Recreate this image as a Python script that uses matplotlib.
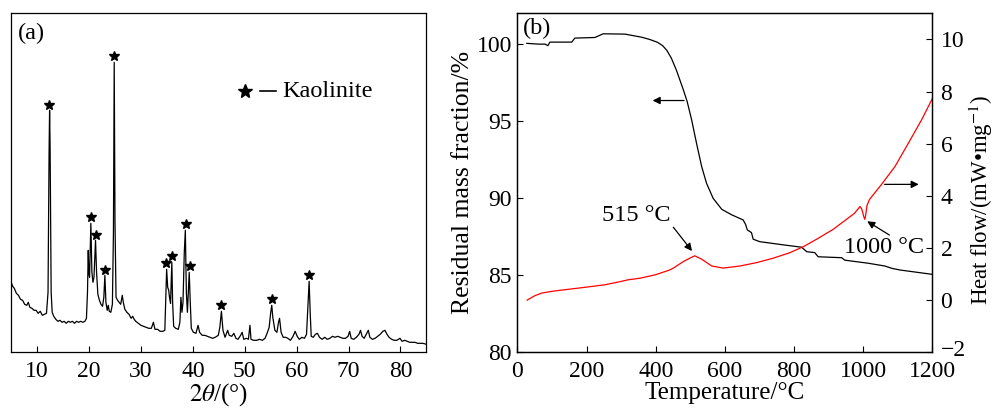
import matplotlib
matplotlib.use('Agg')
import matplotlib.pyplot as plt
import matplotlib.transforms as mtransforms

# ================= DATA =================
# (a) XRD pattern, intensity in arbitrary units
two_theta = [5.0, 5.3, 5.6, 6.0, 6.4, 6.8, 7.2, 7.6, 8.0, 8.3, 8.6, 9.0, 9.4, 9.8, 10.2, 10.6,
             11.0, 11.4, 11.8, 12.1, 12.3, 12.4, 12.5, 12.7, 12.9, 13.2, 13.6, 14.0, 14.4, 14.8,
             15.2, 15.6, 16.0, 16.4, 16.8, 17.2, 17.6, 18.0, 18.4, 18.8, 19.2, 19.5, 19.7, 19.85,
             19.95, 20.1, 20.35, 20.55, 20.75, 20.95, 21.25, 21.45, 21.7, 22.0, 22.3, 22.6, 22.85,
             23.05, 23.25, 23.5, 23.7, 23.9, 24.2, 24.5, 24.7, 24.85, 25.0, 25.2, 25.5, 25.8, 26.1,
             26.4, 26.6, 26.9, 27.3, 27.7, 28.1, 28.4, 28.7, 29.0, 29.5, 30.0, 30.5, 31.0, 31.5,
             32.0, 32.4, 32.7, 33.2, 33.7, 34.2, 34.6, 34.8, 34.95, 35.15, 35.35, 35.5, 35.7, 35.95,
             36.1, 36.3, 36.7, 37.2, 37.5, 37.7, 37.9, 38.1, 38.35, 38.55, 38.75, 38.95, 39.3, 39.5,
             39.7, 40.1, 40.6, 41.0, 41.3, 41.8, 42.3, 42.8, 43.3, 43.8, 44.3, 44.9, 45.2, 45.5,
             45.8, 46.2, 46.7, 47.0, 47.5, 47.9, 48.3, 48.7, 49.2, 49.5, 49.8, 50.3, 50.7, 51.0,
             51.2, 51.7, 52.3, 52.8, 53.4, 53.9, 54.3, 54.7, 55.0, 55.2, 55.4, 55.8, 56.2, 56.5,
             56.7, 57.0, 57.4, 57.9, 58.3, 58.8, 59.3, 59.7, 60.1, 60.5, 61.0, 61.5, 61.9, 62.15,
             62.4, 62.6, 62.8, 63.2, 63.6, 64.0, 64.4, 64.9, 65.4, 65.9, 66.4, 66.9, 67.4, 67.9,
             68.4, 68.9, 69.4, 69.9, 70.2, 70.5, 71.0, 71.5, 72.0, 72.3, 72.6, 73.0, 73.4, 73.8,
             74.1, 74.6, 75.1, 75.6, 76.1, 76.6, 77.0, 77.4, 77.8, 78.3, 78.8, 79.3, 79.9, 80.3,
             80.8, 81.3, 81.8, 82.3, 82.8, 83.3, 83.8, 84.3, 85.0]
intensity = [70, 66, 64, 59, 57, 53, 52, 48, 47, 50, 45, 44, 42, 42, 39, 41,
             37, 38, 39, 60, 200, 242, 205, 60, 40, 36, 33, 31, 32, 30,
             31, 29, 31, 30, 31, 29, 31, 30, 31, 30, 31, 34, 60, 102,
             80, 75, 129, 80, 70, 75, 112, 80, 58, 52, 48, 46, 55,
             77, 50, 42, 47, 41, 40, 48, 120, 290, 130, 55, 52, 50, 48,
             57, 50, 43, 40, 38, 34, 36, 33, 31, 29, 27, 26, 25, 24,
             24, 30, 23, 23, 21, 21, 22, 55, 83, 65, 62, 55, 49, 90,
             50, 26, 24, 23, 30, 55, 40, 50, 100, 122, 60, 40, 80, 50,
             24, 20, 19, 27, 20, 17, 17, 16, 15, 14, 15, 17, 25, 41,
             22, 15, 22, 17, 16, 19, 14, 13, 17, 20, 13, 14, 13, 27,
             13, 12, 12, 13, 12, 14, 19, 25, 40, 47, 35, 22, 20, 30,
             34, 20, 15, 15, 14, 12, 16, 21, 16, 13, 15, 14, 18, 45,
             71, 40, 16, 15, 18, 19, 15, 13, 15, 13, 14, 16, 15, 16,
             15, 14, 14, 16, 21, 14, 13, 15, 18, 22, 16, 14, 18, 22,
             15, 13, 14, 16, 18, 21, 22, 18, 15, 13, 12, 12, 14, 11,
             12, 11, 10, 10, 10, 9, 9, 9, 8]
star_theta = [12.38, 20.41, 21.31, 23.11, 24.85, 34.88, 35.97, 38.6, 39.38, 45.48, 55.25, 62.45]
star_int = [247, 135, 117, 82, 296, 89, 96, 128, 86, 47, 53, 77]

# (b) TG curve
tg_temp = [27, 60, 80, 88, 94, 157, 166, 224, 248, 311, 359, 383, 405, 420, 432, 445, 460,
           480, 491, 504, 518, 533, 547, 566, 591, 620, 653, 660, 665, 677, 682, 701, 770, 822,
           837, 860, 870, 938, 947, 1015, 1063, 1083, 1107, 1200]
tg_mass = [100.05, 100.0, 100.0, 99.9, 100.13, 100.13, 100.39, 100.43, 100.67, 100.65, 100.45,
           100.3, 100.12, 99.9, 99.6, 99.1, 98.3, 97.03, 96.27, 95.08, 93.57, 92.05, 90.97,
           90.0, 89.28, 88.92, 88.59, 88.3, 87.94, 87.77, 87.34, 87.18, 86.97, 86.82, 86.53,
           86.47, 86.2, 86.14, 85.98, 85.78, 85.6, 85.45, 85.34, 85.06]

# (b) DSC curve
dsc_temp = [28, 50, 70, 100, 150, 200, 253, 297, 320, 354, 398, 412, 441, 451, 480, 500, 513,
            533, 562, 595, 644, 692, 740, 788, 827, 866, 914, 952, 975, 991, 996, 1002, 1005,
            1008, 1011, 1018, 1025, 1054, 1092, 1131, 1169, 1200]
dsc_heat = [0.0, 0.17, 0.27, 0.34, 0.42, 0.50, 0.59, 0.71, 0.78, 0.84, 0.97, 1.03, 1.16, 1.23,
            1.48, 1.62, 1.70, 1.57, 1.31, 1.23, 1.31, 1.44, 1.61, 1.82, 2.05, 2.34, 2.72, 3.10,
            3.33, 3.59, 3.50, 3.20, 3.10, 3.30, 3.62, 3.85, 3.97, 4.45, 5.12, 6.02, 6.91, 7.72]

# ================= STYLE =================
plt.rcParams['font.family'] = ['Liberation Serif', 'DejaVu Serif']
plt.rcParams['mathtext.fontset'] = 'stix'
FS_TICK = 17
FS_TEXT = 17.5
FS_LABEL = 18

fig = plt.figure(figsize=(9.98, 4.08), dpi=100)
ax1 = fig.add_axes([0.0112, 0.1365, 0.4161, 0.8309])
ax2 = fig.add_axes([0.5185, 0.1365, 0.4156, 0.8309])
ax3 = ax2.twinx()

# ---- (a) XRD ----
ax1.plot(two_theta, intensity, color='black', lw=0.9)
ax1.plot(star_theta, star_int, ls='none', marker='*', color='black', ms=7)
ax1.set_xlim(5, 85)
ax1.set_ylim(0, 339)
ax1.set_xticks(range(10, 81, 10))
ax1.set_yticks([])
ax1.tick_params(axis='x', direction='in', length=4, width=0.8, labelsize=FS_TICK, pad=6)
ax1.set_xlabel(r'$\mathit{2\theta}$/(°)', fontsize=FS_LABEL, labelpad=0)
ax1.text(0.015, 0.94, '(a)', transform=ax1.transAxes, fontsize=FS_TEXT, va='center', ha='left')
# legend drawn by hand
ax1.plot([0.562], [0.770], transform=ax1.transAxes, marker='*', color='black', ms=10, ls='none')
ax1.plot([0.598, 0.637], [0.770, 0.770], transform=ax1.transAxes, color='black', lw=1.2)
ax1.text(0.652, 0.770, 'Kaolinite', transform=ax1.transAxes, fontsize=FS_TEXT,
         va='center', ha='left')

# ---- (b) TG / DSC ----
ax2.plot(tg_temp, tg_mass, color='black', lw=0.9)
ax3.plot(dsc_temp, dsc_heat, color='red', lw=0.9)
ax2.set_xlim(0, 1200)
ax2.set_ylim(80, 102)
ax3.set_ylim(-2, 11)
ax2.set_xticks(range(0, 1201, 200))
ax2.set_yticks([80, 85, 90, 95, 100])
ax3.set_yticks([-2, 0, 2, 4, 6, 8, 10])
ax2.tick_params(axis='x', direction='in', length=4, width=0.8, labelsize=FS_TICK, pad=6)
ax2.tick_params(axis='y', direction='in', length=4, width=0.8, labelsize=FS_TICK, pad=4)
ax3.tick_params(direction='in', length=4, width=0.8, labelsize=FS_TICK, pad=6)
ax2.set_xlabel('Temperature/°C', fontsize=FS_LABEL, labelpad=0)
ax2.set_ylabel('Residual mass fraction/%', fontsize=18.5, labelpad=2)
ax3.set_ylabel('Heat flow/(mW•mg$^{-1}$)', fontsize=16.5, rotation=90)
ax3.yaxis.set_label_coords(1.083, 0.45)
ax2.text(0.013, 0.954, '(b)', transform=ax2.transAxes, fontsize=FS_TEXT, va='center', ha='left')

# nudge the "-2" label up a little, as in the original
lab = ax3.get_yticklabels()[0]
lab.set_transform(lab.get_transform() +
                  mtransforms.ScaledTranslation(0, 3 / 72, fig.dpi_scale_trans))

arrow = dict(arrowstyle='-|>', color='black', lw=0.9, mutation_scale=11)
ax2.annotate('', xy=(383, 96.34), xytext=(490, 96.34), arrowprops=arrow)
ax3.annotate('', xy=(1169, 4.44), xytext=(1054, 4.44), arrowprops=arrow)
ax3.annotate('', xy=(510, 1.80), xytext=(446, 2.88), arrowprops=arrow)
ax3.annotate('', xy=(1005, 3.08), xytext=(1083, 2.44), arrowprops=arrow)
ax3.text(345, 3.23, '515 °C', fontsize=FS_TEXT, ha='center', va='center')
ax3.text(1060, 2.0, '1000 °C', fontsize=FS_TEXT, ha='center', va='center')

for ax in (ax1, ax2, ax3):
    for sp in ax.spines.values():
        sp.set_linewidth(0.9)

fig.savefig('out.png', dpi=100)
